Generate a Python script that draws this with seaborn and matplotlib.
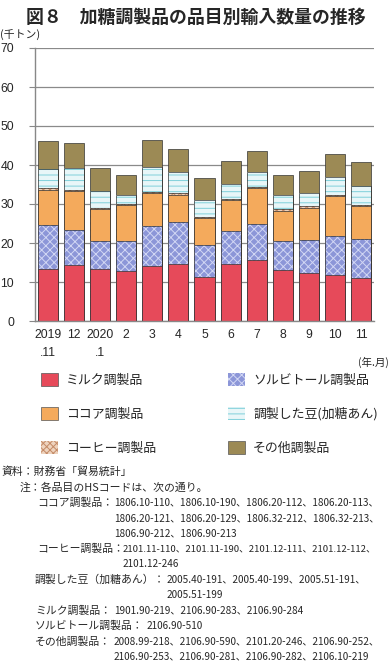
import matplotlib
matplotlib.use("Agg")
import matplotlib.pyplot as plt
from matplotlib.patches import Patch, Rectangle
from matplotlib.ticker import FixedLocator
import numpy as np
import pandas as pd
import seaborn as sns

# ---------------- data ----------------
months = ["2019\n.11", "12", "2020\n.1", "2", "3", "4", "5", "6", "7", "8", "9", "10", "11"]
milk    = [13.4, 14.3, 13.4, 12.7, 14.0, 14.6, 11.3, 14.5, 15.7, 13.2, 12.2, 11.7, 11.1]
sorbit  = [11.1,  9.1,  7.2,  7.7, 10.4, 10.9,  8.3,  8.7,  9.3,  7.3,  8.5, 10.0,  9.8]
cocoa   = [ 9.2,  9.9,  8.0,  9.3,  8.5,  6.9,  6.7,  7.7,  9.0,  7.8,  8.4, 10.3,  8.5]
coffee  = [ 0.3,  0.3,  0.3,  0.3,  0.3,  0.3,  0.3,  0.3,  0.3,  0.3,  0.3,  0.3,  0.3]
beans   = [ 5.1,  5.7,  4.4,  2.4,  6.3,  5.4,  4.3,  3.9,  4.0,  3.7,  3.5,  4.6,  4.8]
other   = [ 7.0,  6.4,  5.9,  5.0,  6.8,  6.0,  5.7,  5.8,  5.2,  5.1,  5.5,  5.8,  6.2]
series_names = ["ミルク調製品", "ソルビトール調製品", "ココア調製品",
                "コーヒー調製品", "調製した豆(加糖あん)", "その他調製品"]
yticks = [0, 10, 20, 30, 40, 50, 60, 70]

# ---------------- style ----------------
sns.set_theme(style="white")
plt.rcParams["font.family"] = ["Noto Sans CJK JP", "DejaVu Sans"]
plt.rcParams["hatch.linewidth"] = 0.7

OUTLINE = "#333333"
colors    = ["#E64A5A", "#8C96D8", "#F4AA5C", "#EED3BE", "#E8F6F8", "#9C8A55"]
hatches   = [None, "xxxx", None, "xxxxx", "---", None]
hatchcols = [None, "#D2D7F4", None, "#C48A66", "#7FD0DA", None]

fig = plt.figure(figsize=(3.91, 6.63), dpi=100)
W, H = 391, 663
ax = fig.add_axes([35 / W, 1 - 321 / H, (374 - 35) / W, (321 - 48) / H])

df = pd.DataFrame({"month": months, "milk": milk, "sorbit": sorbit, "cocoa": cocoa,
                   "coffee": coffee, "beans": beans, "other": other})
keys = ["milk", "sorbit", "cocoa", "coffee", "beans", "other"]
cum = df[keys].cumsum(axis=1)

# draw from top layer downward so lower layers cover upper cumulative bars
for i in reversed(range(len(keys))):
    k = keys[i]
    n_before = len(ax.patches)
    if hatches[i]:
        sns.barplot(x=df["month"], y=cum[k], color=colors[i], saturation=1,
                    width=0.77, linewidth=0, ax=ax, order=months)
        new = list(ax.patches[n_before:])
        for p in new:
            p.set_hatch(hatches[i])
            p.set_edgecolor(hatchcols[i])
            p.set_linewidth(0)
            # thin outline around the bar (hatch colour follows edgecolor)
            ax.add_patch(Rectangle(p.get_xy(), p.get_width(), p.get_height(),
                                   fill=False, edgecolor=OUTLINE, linewidth=0.5))
    else:
        sns.barplot(x=df["month"], y=cum[k], color=colors[i], saturation=1,
                    width=0.77, edgecolor=OUTLINE, linewidth=0.5, ax=ax, order=months)

ax.set_ylim(0, 70)
ax.set_xlim(-0.5, len(months) - 0.5)
ax.set_yticks(yticks)
ax.set_yticklabels([str(v) for v in yticks], fontsize=8.8, family="Liberation Sans")
ax.set_xticks(range(len(months)))
ax.set_xticklabels(months, fontsize=8.8, family="Liberation Sans", linespacing=1.6,
                   va="top")
ax.xaxis.set_minor_locator(FixedLocator(np.arange(-0.5, len(months), 1.0)))
ax.tick_params(axis="x", which="major", length=0, pad=6)
ax.tick_params(axis="x", which="minor", length=4, width=0.8, color="#888888", direction="out")
ax.tick_params(axis="y", which="major", length=4, width=0.8, color="#888888",
               direction="out", pad=11, left=True)
ax.set_xlabel("")
ax.set_ylabel("")
ax.yaxis.grid(True, color="#8A8A8A", linewidth=0.9)
ax.set_axisbelow(True)
for s in ["top", "right"]:
    ax.spines[s].set_visible(False)
for s in ["left", "bottom"]:
    ax.spines[s].set_color("#888888")
    ax.spines[s].set_linewidth(1.0)

# ---------------- texts ----------------
fig.text(196 / W, 1 - 18 / H, "図８　加糖調製品の品目別輸入数量の推移",
         ha="center", va="center", fontsize=12.9, fontweight="bold")
fig.text(0 / W, 1 - 35 / H, "(千トン)", ha="left", va="center", fontsize=7.8)
fig.text(389 / W, 1 - 362 / H, "(年.月)", ha="right", va="center", fontsize=7.6)

# ---------------- legend ----------------
order = [0, 2, 3, 1, 4, 5]
handles = []
for i in order:
    handles.append(Patch(facecolor=colors[i],
                         edgecolor=hatchcols[i] if hatches[i] else "#555555",
                         linewidth=0.5 if not hatches[i] else 0.0,
                         hatch=hatches[i]))
leg = fig.legend(handles, [series_names[i] for i in order], ncol=2,
                 loc="upper left", bbox_to_anchor=(41 / W, 1 - 373 / H),
                 frameon=False, fontsize=9.3, handlelength=1.35, handleheight=1.2,
                 handletextpad=0.6, labelspacing=1.55, columnspacing=5.55,
                 borderpad=0, borderaxespad=0)

# ---------------- notes ----------------
fs_lab = 7.8
fs_code = 7.2
y0, dy = 472, 15.4
lines = [
    (2, "資料：財務省「貿易統計」", None, None),
    (20, "注：各品目のHSコードは、次の通り。", None, None),
    (37, "ココア調製品：", 114, "1806.10-110、1806.10-190、1806.20-112、1806.20-113、"),
    (None, None, 114, "1806.20-121、1806.20-129、1806.32-212、1806.32-213、"),
    (None, None, 114, "1806.90-212、1806.90-213"),
    (37, "コーヒー調製品：", 123, "2101.11-110、2101.11-190、2101.12-111、2101.12-112、"),
    (None, None, 123, "2101.12-246"),
    (35, "調製した豆（加糖あん）：", 167, "2005.40-191、2005.40-199、2005.51-191、"),
    (None, None, 167, "2005.51-199"),
    (35, "ミルク調製品：", 114, "1901.90-219、2106.90-283、2106.90-284"),
    (35, "ソルビトール調製品：", 147, "2106.90-510"),
    (35, "その他調製品：", 114, "2008.99-218、2106.90-590、2101.20-246、2106.90-252、"),
    (None, None, 114, "2106.90-253、2106.90-281、2106.90-282、2106.10-219"),
]
for j, (xl, tl, xc, tc) in enumerate(lines):
    yy = 1 - (y0 + j * dy) / H
    if tl:
        fig.text(xl / W, yy, tl, ha="left", va="center", fontsize=fs_lab)
    if tc:
        size = fs_code if j != 5 else 6.9
        fig.text(xc / W, yy, tc, ha="left", va="center", fontsize=size)

fig.savefig("out.png", dpi=100)
